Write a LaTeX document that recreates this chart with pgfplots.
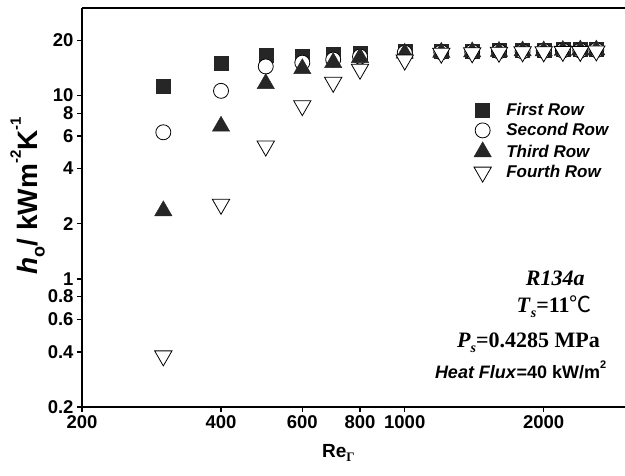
\documentclass[border=0pt]{standalone}
\usepackage{fontspec}
\setmainfont{Liberation Sans}
\newfontfamily\timesf{Liberation Serif}
\newfontfamily\cjk{Noto Sans CJK SC}
\usepackage{pgfplots}
\pgfplotsset{compat=1.18}
\usetikzlibrary{calc}

% h_o (kW m^-2 K^-1) per tube row against film Reynolds number
\pgfplotstableread{
Re    r1    r2    r3    r4
300   11.2  6.3   2.35  0.38
400   15.0  10.6  6.8   2.55
500   16.5  14.4  11.6  5.3
600   16.3  15.1  14.0  8.8
700   16.7  15.7  15.1  11.8
800   17.0  16.3  16.1  13.9
1000  17.4  17.1  17.0  15.6
1200  17.4  17.2  17.2  17.0
1400  17.5  17.3  17.3  17.1
1600  17.6  17.4  17.4  17.2
1800  17.6  17.4  17.5  17.3
2000  17.7  17.5  17.5  17.3
2200  17.8  17.6  17.6  17.4
2400  17.8  17.6  17.7  17.4
2600  17.9  17.7  17.7  17.5
}\hdata

\begin{document}
\begin{tikzpicture}
\begin{axis}[
  scale only axis, width=543pt, height=399pt,
  xmode=log, ymode=log,
  xmin=200, xmax=3000, ymin=0.2, ymax=30,
  xtick={200,400,600,800,1000,2000},
  xticklabels={200,400,600,800,1000,2000},
  ytick={0.2,0.4,0.6,0.8,1,2,4,6,8,10,20},
  yticklabels={0.2,0.4,0.6,0.8,1,2,4,6,8,10,20},
  minor tick num=0,
  axis x line*=bottom, axis y line*=left,
  axis line style={line width=1.4pt, -},
  tick align=outside, major tick length=5pt,
  tick style={line width=1.4pt, black},
  tick label style={font=\bfseries\fontsize{18.5}{18.5}\selectfont},
  /pgf/number format/assume math mode=true,
  xlabel={\bfseries Re\raisebox{-0.35ex}{\timesf\fontsize{13}{13}\selectfont\textbf{Γ}}},
  xlabel style={font=\fontsize{19}{19}\selectfont, at={(axis description cs:0.472,-0.085)}, anchor=north},
  ylabel={\bfseries\textit{h}\raisebox{-0.5ex}{\fontsize{18}{18}\selectfont o}/ kWm\raisebox{1.1ex}{\fontsize{15}{15}\selectfont -2}K\raisebox{1.1ex}{\fontsize{15}{15}\selectfont -1}},
  ylabel style={font=\fontsize{28}{28}\selectfont, at={(axis description cs:-0.062,0.53)}, anchor=south},
  legend style={at={(rel axis cs:0.716,0.772)}, anchor=north west, draw=none, fill=none,
    font=\bfseries\itshape\fontsize{17}{17}\selectfont, row sep=2.5pt, column sep=13pt},
  legend cell align=left,
  clip=false]
  \addplot[only marks, mark=square*, mark size=7pt, mark options={fill=black!85, draw=black!85}] table[x=Re, y=r1] {\hdata};
  \addlegendentry{First Row}
  \addplot[only marks, mark=*, mark size=7.5pt, mark options={fill=white, draw=black, line width=0.8pt}] table[x=Re, y=r2] {\hdata};
  \addlegendentry{Second Row}
  \addplot[only marks, mark=triangle*, mark size=10pt, mark options={fill=black!85, draw=black!85}] table[x=Re, y=r3] {\hdata};
  \addlegendentry{Third Row}
  \addplot[only marks, mark=triangle*, mark size=10pt, mark options={rotate=180, fill=white, draw=black, line width=0.8pt}] table[x=Re, y=r4] {\hdata};
  \addlegendentry{Fourth Row}
  \draw[line width=1.4pt] (rel axis cs:0,1) -- (rel axis cs:1,1);
  \node[anchor=east, font=\timesf\bfseries\itshape\fontsize{22}{22}\selectfont] at (rel axis cs:0.932,0.323) {R134a};
  \node[anchor=east, font=\timesf\bfseries\fontsize{22}{22}\selectfont] at (rel axis cs:0.945,0.251) {\textit{T}\raisebox{-0.5ex}{\fontsize{14}{14}\selectfont\textit{s}}=11{\cjk\mdseries ℃}};
  \node[anchor=east, font=\timesf\bfseries\fontsize{22}{22}\selectfont] at (rel axis cs:0.96,0.160) {\textit{P}\raisebox{-0.5ex}{\fontsize{14}{14}\selectfont\textit{s}}=0.4285 MPa};
  \node[anchor=east, font=\bfseries\fontsize{18}{18}\selectfont] at (rel axis cs:0.972,0.093) {\textit{Heat Flux}=40 kW/m\raisebox{1ex}{\fontsize{11}{11}\selectfont 2}};
  \coordinate (ll) at (rel axis cs:0,0);
  \coordinate (ur) at (rel axis cs:1,1);
\end{axis}
\pgfresetboundingbox
\useasboundingbox ($(ll)+(-82pt,-68pt)$) rectangle ($(ur)+(0pt,8pt)$);
\end{tikzpicture}
\end{document}
